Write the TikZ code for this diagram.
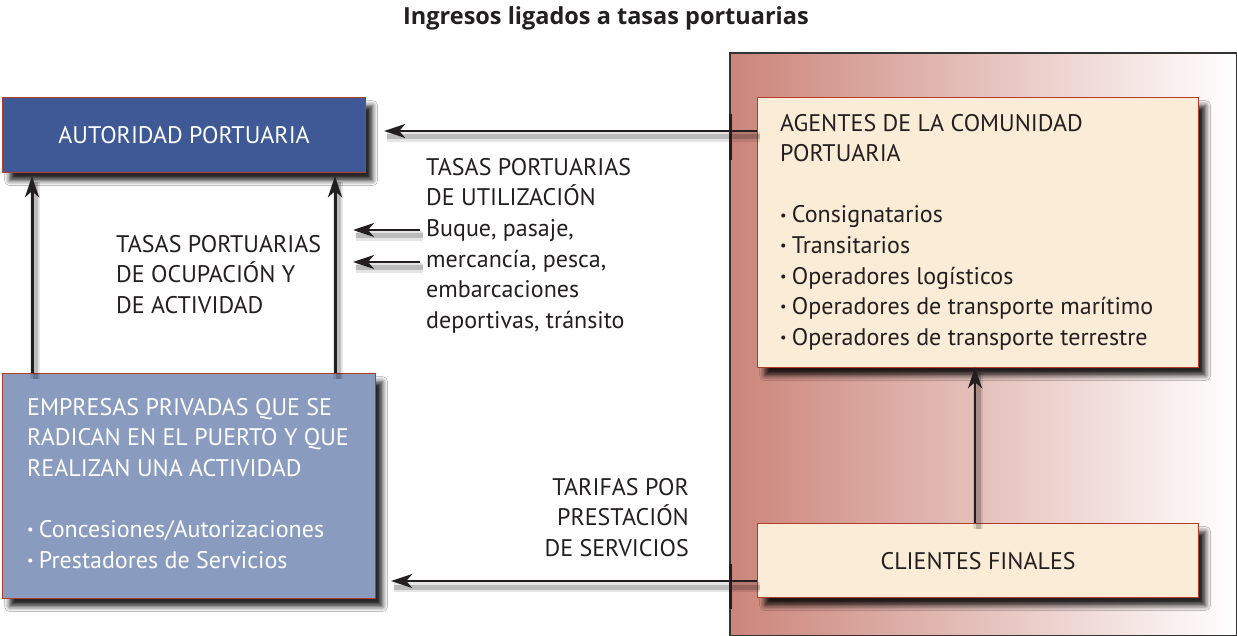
\documentclass[tikz,border=0pt]{standalone}
\usepackage{fontspec}
\setmainfont{PT Sans}
\newfontfamily\titlefont{Open Sans}
\usetikzlibrary{arrows.meta,shadows.blur,calc}
\definecolor{txt}{HTML}{231F20}
\definecolor{blueA}{HTML}{3E5996}
\definecolor{blueB}{HTML}{8A9BC0}
\definecolor{cream}{HTML}{FBECD7}
\definecolor{redline}{HTML}{B43C2D}
\definecolor{panelL}{HTML}{CB857A}
\definecolor{panelM}{HTML}{E0B4AE}
\newcommand{\mystrut}{\rule{0pt}{18pt}}
\newcommand{\mybul}{\raisebox{0.12em}{\scalebox{0.6}{•}}\hspace{0.22em}}
\begin{document}
\begin{tikzpicture}[x=1pt,y=-1pt,
  box/.style={draw=redline,line width=1.2pt,rectangle,inner sep=0pt,anchor=north west,
    blur shadow={shadow xshift=7pt,shadow yshift=-8pt,shadow blur radius=5pt,shadow opacity=85}},
  lbl/.style={text=txt,font=\fontsize{24}{30.6}\selectfont,inner sep=0pt,align=left,anchor=north west},
  arr/.style={draw=txt,line width=2pt,-{Stealth[length=21pt,width=14pt,inset=6pt]},
    preaction={draw=black,draw opacity=0.10,line width=10pt,-,transform canvas={shift={(3pt,-6pt)}}},
    preaction={draw=black,draw opacity=0.18,line width=5pt,-,transform canvas={shift={(3pt,-6pt)}}}},
  varr/.style={arr,line width=3pt},
  tick/.style={draw=txt,line width=3pt}]
\useasboundingbox (0,0) rectangle (1237,636);
\fill[white] (0,0) rectangle (1237,636);

% title
\node[text=txt,font=\fontsize{23.5}{28}\selectfont\titlefont\bfseries,inner sep=0pt,anchor=base] (title) at (606,25) {Ingresos ligados a tasas portuarias};

% right panel
\node[rectangle,draw=black!80,line width=2pt,inner sep=0pt,anchor=north west,
  minimum width=507pt,minimum height=583pt,left color=panelL,middle color=panelM,right color=white] (panel) at (729,52) {};

% boxes
\node[box,fill=blueA,minimum width=363pt,minimum height=75pt,text=white,font=\fontsize{24}{30.6}\selectfont] (autoridad) at (2,97) {AUTORIDAD PORTUARIA};
\node[box,fill=blueB,minimum width=373pt,minimum height=225pt] (empresas) at (2,373) {};
\node[box,fill=cream,minimum width=441pt,minimum height=270pt] (agentes) at (757,97) {};
\node[box,fill=cream,minimum width=441pt,minimum height=74pt,text=txt,font=\fontsize{24}{30.6}\selectfont] (clientes) at (757,523) {CLIENTES FINALES};

% texts
\node[lbl,text=white] (empresastxt) at (27,397) {\mystrut EMPRESAS PRIVADAS QUE SE\\RADICAN EN EL PUERTO Y QUE\\REALIZAN UNA ACTIVIDAD\\[30.6pt]\mybul Concesiones/Autorizaciones\\\mybul Prestadores de Servicios};
\node[lbl] (agentestxt) at (780,113) {\mystrut AGENTES DE LA COMUNIDAD\\PORTUARIA\\[30.6pt]\mybul Consignatarios\\\mybul Transitarios\\\mybul Operadores logísticos\\\mybul Operadores de transporte marítimo\\\mybul Operadores de transporte terrestre};
\node[lbl] (ocupacion) at (116,234) {\mystrut TASAS PORTUARIAS\\DE OCUPACIÓN Y\\DE ACTIVIDAD};
\node[lbl] (utilizacion) at (426,157) {\mystrut TASAS PORTUARIAS\\DE UTILIZACIÓN\\Buque, pasaje,\\mercancía, pesca,\\embarcaciones\\deportivas, tránsito};
\node[lbl,align=right,anchor=north east] (tarifas) at (689,477) {\mystrut TARIFAS POR\\PRESTACIÓN\\DE SERVICIOS};

% connectors
\draw[arr,shorten >=18pt] (agentes.west |- 0,131) -- (autoridad.east |- 0,131);
\draw[tick] (730,114) -- (730,160);
\coordinate (s1a) at (420,230);
\coordinate (s1b) at (353,230);
\coordinate (s2a) at (420,262);
\coordinate (s2b) at (353,262);
\draw[arr] (s1a) -- (s1b);
\draw[arr] (s2a) -- (s2b);
\draw[varr,shorten >=3pt] (empresas.north -| 32,0) -- (autoridad.south -| 32,0);
\draw[varr,shorten >=3pt] (empresas.north -| 335,0) -- (autoridad.south -| 335,0);
\draw[arr,line width=2.5pt,shorten >=-1pt] (clientes.north -| 975,0) -- (agentes.south -| 975,0);
\draw[arr,shorten >=15pt] (clientes.west |- 0,581) -- (empresas.east |- 0,581);
\draw[tick] (730,564) -- (730,609);
\end{tikzpicture}
\end{document}
